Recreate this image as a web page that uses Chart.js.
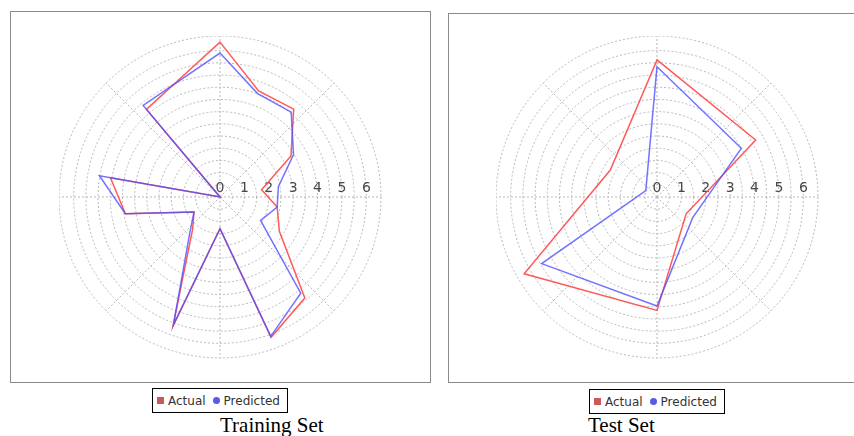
<!DOCTYPE html>
<html>
<head>
<meta charset="utf-8">
<script src="https://cdn.jsdelivr.net/npm/chart.js@4.4.1/dist/chart.umd.min.js"></script>
<style>
    body { margin: 0; width: 854px; height: 436px; background: #fff; position: relative; overflow: hidden; }
    .frame { position: absolute; border: 1px solid #8a8a8a; box-sizing: border-box; }
    .plot { position: absolute; width: 323px; height: 323px; }
    .legend { position: absolute; height: 25px; border: 1px solid #000; box-sizing: border-box;
              font: 12px "DejaVu Sans", sans-serif; color: #333; display: flex; align-items: center;
              padding-left: 4px; white-space: nowrap; }
    .legend .sq { width: 7px; height: 7px; background: #c85a5a; margin-right: 4px; }
    .legend .dot { width: 7px; height: 7px; border-radius: 50%; background: #5a5ae6; margin: 0 4px 0 7px; }
    .title { position: absolute; font: 21px "Liberation Serif", "Times New Roman", serif; line-height: 21px; color: #000; }
</style>
</head>
<body>
<div class="frame" style="left:10px; top:11px; width:421px; height:372px;"></div>
<div class="frame" style="left:448px; top:13px; width:420px; height:370px;"></div>

<canvas id="trainChart" class="plot" width="323" height="323" style="left:59px; top:36px;"></canvas>
<canvas id="testChart" class="plot" width="323" height="323" style="left:496px; top:36px;"></canvas>

<div class="legend" style="left:152px; top:388px; width:136px;">
    <span class="sq"></span><span>Actual</span><span class="dot"></span><span>Predicted</span>
</div>
<div class="legend" style="left:589px; top:389px; width:136px;">
    <span class="sq"></span><span>Actual</span><span class="dot"></span><span>Predicted</span>
</div>

<div class="title" style="left:220px; top:415px;">Training Set</div>
<div class="title" style="left:588px; top:415px;">Test Set</div>

<script>
// values, angle 0 at the top, going clockwise
const trainAngles = [0, 20, 40, 60, 80, 100, 120, 140, 160, 180, 200, 220, 240, 260, 280, 300, 320, 340];
const trainActual = [6.35, 4.63, 4.70, 3.36, 1.73, 2.38, 2.81, 5.41, 6.12, 1.30, 5.63, 1.75, 1.23, 3.94, 4.56, 0, 4.69, 5.07];
const trainPredicted = [5.90, 4.51, 4.54, 3.48, 2.43, 2.38, 1.92, 5.15, 6.08, 1.30, 5.58, 1.93, 1.23, 3.94, 5.02, 0, 4.90, 5.03];

const testAngles = [0, 60, 120, 180, 240, 300];
const testActual = [5.62, 4.67, 1.38, 4.65, 6.29, 2.21];
const testPredicted = [5.34, 3.99, 1.69, 4.47, 5.46, 0.53];

const radiusTicks = [0, 1, 2, 3, 4, 5, 6];
const angleStep = 5;      // radar slots every 5 degrees
const gridAngle = 45;     // dashed spokes every 45 degrees
const rMax = 6.6;

const RED = 'rgba(255, 80, 80, 0.95)';
const BLUE = 'rgba(80, 80, 255, 0.8)';
const GRID = '#b8b8b8';

const slots = 360 / angleStep;

// put each value in its angle slot, gaps are spanned by the line
function toSlots(angles, values) {
    const out = new Array(slots).fill(null);
    angles.forEach((a, i) => { out[a / angleStep] = values[i]; });
    return out;
}

const radiusLabels = {
    id: 'radiusLabels',
    beforeDatasetsDraw(chart) {
        const r = chart.scales.r;
        const ctx = chart.ctx;
        ctx.save();
        ctx.font = '14px "DejaVu Sans", sans-serif';
        ctx.fillStyle = '#484848';
        ctx.textAlign = 'center';
        ctx.textBaseline = 'alphabetic';
        radiusTicks.forEach(v => {
            ctx.fillText(String(v), r.xCenter + r.getDistanceFromCenterForValue(v), r.yCenter - 5);
        });
        ctx.restore();
    }
};

function buildChart(id, angles, actual, predicted) {
    const ctx = document.getElementById(id);
    return new Chart(ctx, {
        type: 'radar',
        data: {
            labels: new Array(slots).fill(''),
            datasets: [{
                label: 'Actual',
                data: toSlots(angles, actual),
                borderColor: RED,
                borderWidth: 1.5,
                pointRadius: 0,
                fill: false,
                spanGaps: true,
                order: 1
            }, {
                label: 'Predicted',
                data: toSlots(angles, predicted),
                borderColor: BLUE,
                borderWidth: 1.5,
                pointRadius: 0,
                fill: false,
                spanGaps: true,
                order: 0
            }]
        },
        options: {
            responsive: false,
            animation: false,
            events: [],
            layout: { padding: 0 },
            plugins: {
                legend: { display: false },
                tooltip: { enabled: false }
            },
            scales: {
                r: {
                    min: 0,
                    max: rMax,
                    ticks: { display: false, stepSize: 0.5 },
                    pointLabels: { display: false },
                    grid: {
                        circular: true,
                        color: c => (c.tick && c.tick.value === 6.5) ? 'transparent' : GRID,
                        lineWidth: 1
                    },
                    border: { dash: [2, 2] },
                    angleLines: {
                        color: GRID,
                        lineWidth: c => (c.index * angleStep) % gridAngle === 0 ? 1 : 0,
                        borderDash: [2, 2]
                    }
                }
            }
        },
        plugins: [radiusLabels]
    });
}

buildChart('trainChart', trainAngles, trainActual, trainPredicted);
buildChart('testChart', testAngles, testActual, testPredicted);
</script>
</body>
</html>
